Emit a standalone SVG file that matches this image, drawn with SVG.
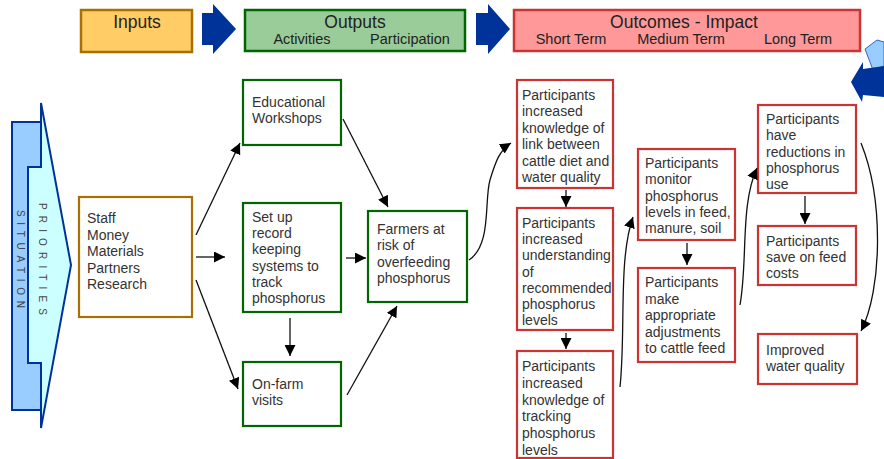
<svg xmlns="http://www.w3.org/2000/svg" width="884" height="459" viewBox="0 0 884 459">
<style>
.t{font-family:"Liberation Sans",Arial,sans-serif;font-size:14px;fill:#333}
.h{font-family:"Liberation Sans",Arial,sans-serif;font-size:17.5px;fill:#222;text-anchor:middle}
.s{font-family:"Liberation Sans",Arial,sans-serif;font-size:14.5px;fill:#222;text-anchor:middle}
.v{font-family:"Liberation Sans",Arial,sans-serif;font-size:10px;fill:#444}
.act{fill:#fff;stroke:#006600;stroke-width:2.2}
.out{fill:#fff;stroke:#CC3333;stroke-width:2.2}
.c{fill:none;stroke:#111;stroke-width:1.3;marker-end:url(#ah)}
.big{fill:#003399}
</style>
<defs>
<marker id="ah" viewBox="0 0 10 10" refX="10" refY="5" markerWidth="11" markerHeight="11" markerUnits="userSpaceOnUse" orient="auto"><path d="M0,0 L10,5 L0,10 z" fill="#000"/></marker>
</defs>

<g id="header">
<g id="inputs-head"><rect x="81" y="10" width="111" height="42" fill="#FFCC66" stroke="#A87000" stroke-width="2.5"/><text class="h" x="137" y="28">Inputs</text></g>
<polygon class="big" points="202,13 213,13 213,4 236,29 213,54 213,45 202,45"/>
<g id="outputs-head"><rect x="245" y="10" width="220" height="41" fill="#99CC99" stroke="#006600" stroke-width="2.5"/><text class="h" x="355" y="28">Outputs</text><text class="s" x="302" y="44">Activities</text><text class="s" x="410" y="44">Participation</text></g>
<polygon class="big" points="476,13 488,13 488,4 510,29 488,54 488,45 476,45"/>
<g id="outcomes-head"><rect x="514" y="10" width="346" height="41" fill="#FF9999" stroke="#CC3333" stroke-width="2.5"/><text class="h" x="684" y="28">Outcomes - Impact</text><text class="s" x="571" y="44">Short Term</text><text class="s" x="681" y="44">Medium Term</text><text class="s" x="798" y="44">Long Term</text></g>
<polygon points="865,49 877,40 884,42 884,66 873,70" fill="#99CCFF" stroke="#3366CC" stroke-width="1"/>
<polygon class="big" points="851,82 863,62 863,69 884,66 884,97 863,95 862,102"/>
</g>

<g id="situation">
<rect x="12" y="122" width="29" height="288" fill="#99CCFF" stroke="#003399" stroke-width="2"/>
<text class="v" transform="translate(17,210) rotate(90)" textLength="98" lengthAdjust="spacing">SITUATION</text>
</g>
<g id="priorities">
<polygon points="41,103 71,265 41,428 41,363 28,363 28,167 41,167" fill="#CCFFFF" stroke="#003399" stroke-width="2" stroke-linejoin="miter"/>
<text class="v" transform="translate(39,203) rotate(90)" textLength="112" lengthAdjust="spacing">PRIORITIES</text>
</g>

<g id="resources"><rect x="79" y="197" width="113" height="120" fill="#fff" stroke="#A87000" stroke-width="2.2"/>
<text class="t"><tspan x="87" y="223">Staff</tspan><tspan x="87" y="239.5">Money</tspan><tspan x="87" y="256">Materials</tspan><tspan x="87" y="272.5">Partners</tspan><tspan x="87" y="289">Research</tspan></text></g>

<g id="workshops"><rect class="act" x="243" y="80" width="98" height="65"/>
<text class="t"><tspan x="252" y="107">Educational</tspan><tspan x="252" y="123">Workshops</tspan></text></g>
<g id="recordkeeping"><rect class="act" x="243" y="203" width="98" height="109"/>
<text class="t"><tspan x="252" y="222">Set up</tspan><tspan x="252" y="238.2">record</tspan><tspan x="252" y="254.4">keeping</tspan><tspan x="252" y="270.6">systems to</tspan><tspan x="252" y="286.8">track</tspan><tspan x="252" y="303">phosphorus</tspan></text></g>
<g id="onfarm"><rect class="act" x="243" y="362" width="98" height="64"/>
<text class="t"><tspan x="252" y="389">On-farm</tspan><tspan x="252" y="405">visits</tspan></text></g>
<g id="farmers"><rect class="act" x="368" y="211" width="99" height="91"/>
<text class="t"><tspan x="377" y="234">Farmers at</tspan><tspan x="377" y="250.3">risk of</tspan><tspan x="377" y="266.7">overfeeding</tspan><tspan x="377" y="283">phosphorus</tspan></text></g>

<g id="st1"><rect class="out" x="517" y="80" width="96" height="108"/>
<text class="t"><tspan x="522" y="100">Participants</tspan><tspan x="522" y="116.4">increased</tspan><tspan x="522" y="132.8">knowledge of</tspan><tspan x="522" y="149.2">link between</tspan><tspan x="522" y="165.6">cattle diet and</tspan><tspan x="522" y="182">water quality</tspan></text></g>
<g id="st2"><rect class="out" x="517" y="208" width="96" height="122"/>
<text class="t"><tspan x="522" y="228">Participants</tspan><tspan x="522" y="244.2">increased</tspan><tspan x="522" y="260.4">understanding</tspan><tspan x="522" y="276.6">of</tspan><tspan x="522" y="292.8">recommended</tspan><tspan x="522" y="309">phosphorus</tspan><tspan x="522" y="325">levels</tspan></text></g>
<g id="st3"><rect class="out" x="517" y="351" width="96" height="107"/>
<text class="t"><tspan x="522" y="371">Participants</tspan><tspan x="522" y="387.8">increased</tspan><tspan x="522" y="404.6">knowledge of</tspan><tspan x="522" y="421.4">tracking</tspan><tspan x="522" y="438.2">phosphorus</tspan><tspan x="522" y="455">levels</tspan></text></g>

<g id="mt1"><rect class="out" x="638" y="149" width="97" height="91"/>
<text class="t"><tspan x="645" y="168">Participants</tspan><tspan x="645" y="184.2">monitor</tspan><tspan x="645" y="200.5">phosphorus</tspan><tspan x="645" y="216.8">levels in feed,</tspan><tspan x="645" y="233">manure, soil</tspan></text></g>
<g id="mt2"><rect class="out" x="638" y="268" width="97" height="94"/>
<text class="t"><tspan x="645" y="287">Participants</tspan><tspan x="645" y="303.5">make</tspan><tspan x="645" y="320">appropriate</tspan><tspan x="645" y="336.5">adjustments</tspan><tspan x="645" y="353">to cattle feed</tspan></text></g>

<g id="lt1"><rect class="out" x="758" y="105" width="98" height="88"/>
<text class="t"><tspan x="766" y="124">Participants</tspan><tspan x="766" y="140.3">have</tspan><tspan x="766" y="156.6">reductions in</tspan><tspan x="766" y="172.9">phosphorus</tspan><tspan x="766" y="189">use</tspan></text></g>
<g id="lt2"><rect class="out" x="758" y="226" width="98" height="59"/>
<text class="t"><tspan x="766" y="246">Participants</tspan><tspan x="766" y="262">save on feed</tspan><tspan x="766" y="278">costs</tspan></text></g>
<g id="lt3"><rect class="out" x="758" y="334" width="99" height="50"/>
<text class="t"><tspan x="766" y="355">Improved</tspan><tspan x="766" y="371">water quality</tspan></text></g>

<g id="connectors">
<line class="c" x1="196" y1="235" x2="240" y2="143"/>
<line class="c" x1="196" y1="257" x2="225" y2="257"/>
<line class="c" x1="196" y1="280" x2="238" y2="389"/>
<line class="c" x1="343" y1="119" x2="388" y2="207"/>
<line class="c" x1="346" y1="258" x2="366" y2="258"/>
<line class="c" x1="290" y1="318" x2="290" y2="356"/>
<line class="c" x1="347" y1="395" x2="397" y2="306"/>
<path class="c" d="M469,260 C492,245 484,200 490,180 C496,160 500,150 511,143"/>
<line class="c" x1="566" y1="190" x2="566" y2="207"/>
<line class="c" x1="566" y1="333" x2="566" y2="349"/>
<path class="c" d="M620,387 C626,330 618,260 633,217"/>
<line class="c" x1="687" y1="243" x2="687" y2="265"/>
<path class="c" d="M740,305 C748,260 740,205 757,168"/>
<line class="c" x1="805" y1="196" x2="805" y2="224"/>
<path class="c" d="M861,143 C884,200 882,290 861,331"/>
</g>
</svg>
